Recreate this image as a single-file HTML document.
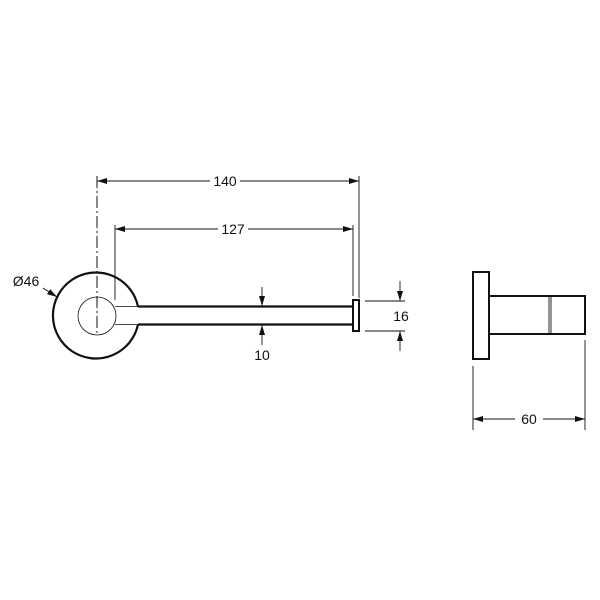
<!DOCTYPE html>
<html><head><style>body{margin:0;background:#fff}svg{display:block}text{font-family:"Liberation Sans",sans-serif;font-size:14px;fill:#111}</style></head><body>
<svg width="600" height="600" viewBox="0 0 600 600" xmlns="http://www.w3.org/2000/svg">
<defs><marker id="a" viewBox="0 0 10 6" refX="10" refY="3" markerWidth="10" markerHeight="6" orient="auto-start-reverse" markerUnits="userSpaceOnUse"><path d="M0,0L10,3L0,6z" fill="#111"/></marker></defs>
<g stroke="#111" fill="none">
<path d="M138,306.5 A43,43 0 1 0 138,324.5" stroke-width="2.2"/>
<line x1="138" y1="306.5" x2="354" y2="306.5" stroke-width="2.2"/>
<line x1="138" y1="324.5" x2="354" y2="324.5" stroke-width="2.2"/>
<line x1="115" y1="306.5" x2="138" y2="306.5" stroke-width="0.8"/>
<line x1="115" y1="324.5" x2="138" y2="324.5" stroke-width="0.8"/>
<circle cx="97" cy="316" r="19" stroke-width="0.8"/>
<rect x="353" y="300" width="6" height="31" stroke-width="2"/>
<line x1="97" y1="176" x2="97" y2="336" stroke-width="1" stroke-dasharray="12,3,2,3"/>
<line x1="359" y1="176" x2="359" y2="298" stroke-width="0.9"/>
<line x1="97" y1="181" x2="210" y2="181" stroke-width="0.9" marker-start="url(#a)"/>
<line x1="240" y1="181" x2="359" y2="181" stroke-width="0.9" marker-end="url(#a)"/>
<line x1="115" y1="225" x2="115" y2="300" stroke-width="0.9"/>
<line x1="353" y1="225" x2="353" y2="296" stroke-width="0.9"/>
<line x1="115" y1="229" x2="218" y2="229" stroke-width="0.9" marker-start="url(#a)"/>
<line x1="248" y1="229" x2="353" y2="229" stroke-width="0.9" marker-end="url(#a)"/>
<line x1="262" y1="287" x2="262" y2="306" stroke-width="0.9" marker-end="url(#a)"/>
<line x1="262" y1="345" x2="262" y2="325" stroke-width="0.9" marker-end="url(#a)"/>
<line x1="365" y1="301" x2="405" y2="301" stroke-width="0.9"/>
<line x1="365" y1="331" x2="405" y2="331" stroke-width="0.9"/>
<line x1="400" y1="281" x2="400" y2="301" stroke-width="0.9" marker-end="url(#a)"/>
<line x1="400" y1="351" x2="400" y2="331" stroke-width="0.9" marker-end="url(#a)"/>
<line x1="43" y1="288" x2="57" y2="297" stroke-width="0.9" marker-end="url(#a)"/>
<rect x="473" y="272" width="16" height="87" stroke-width="2"/>
<path d="M489,296 H585 V334 H489" stroke-width="2"/>
<line x1="549" y1="296" x2="549" y2="334" stroke-width="0.9"/>
<line x1="551" y1="296" x2="551" y2="334" stroke-width="0.9"/>
<line x1="473" y1="366" x2="473" y2="430" stroke-width="0.9"/>
<line x1="585" y1="340" x2="585" y2="430" stroke-width="0.9"/>
<line x1="473" y1="419" x2="515" y2="419" stroke-width="0.9" marker-start="url(#a)"/>
<line x1="543" y1="419" x2="585" y2="419" stroke-width="0.9" marker-end="url(#a)"/>
</g>
<text x="225" y="186" text-anchor="middle">140</text>
<text x="233" y="234" text-anchor="middle">127</text>
<text x="262" y="360" text-anchor="middle">10</text>
<text x="401" y="321" text-anchor="middle">16</text>
<text x="26" y="286" text-anchor="middle">Ø46</text>
<text x="529" y="424" text-anchor="middle">60</text>
</svg>
</body></html>
